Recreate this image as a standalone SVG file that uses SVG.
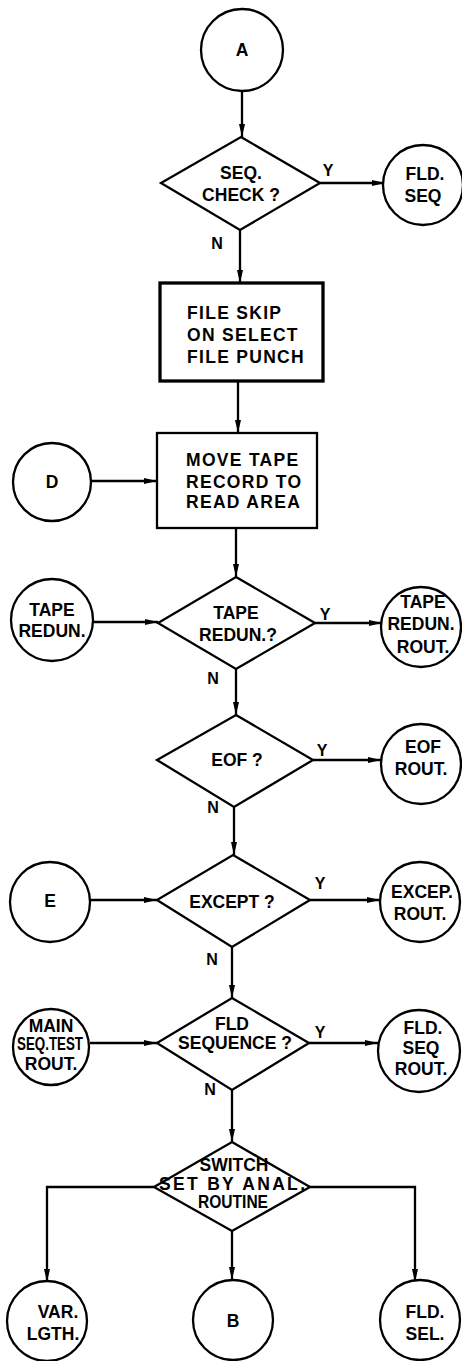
<svg xmlns="http://www.w3.org/2000/svg" width="462" height="1361" viewBox="0 0 462 1361">
<style>
.bg{fill:#fff}
.sh{fill:#fff;stroke:#000;stroke-width:2.3}
.thick{stroke-width:3.3}
.ln{fill:none;stroke:#000;stroke-width:2.3}
text{font-family:"Liberation Sans",Arial,sans-serif;font-weight:bold;font-size:17.5px;fill:#000;text-anchor:middle}
.lbl{font-size:16px}
.lt{text-anchor:start;letter-spacing:1.3px}
</style>
<defs>
<marker id="ah" markerWidth="14" markerHeight="8" refX="13" refY="4" orient="auto" markerUnits="userSpaceOnUse">
<path d="M0,1 L13,4 L0,7 z" fill="#000"/>
</marker>
</defs>
<rect class="bg" width="462" height="1361"/>
<g id="connectors">
<path class="ln" marker-end="url(#ah)" d="M242,90 L242,137"/>
<path class="ln" marker-end="url(#ah)" d="M320,183 L385,183"/>
<path class="ln" marker-end="url(#ah)" d="M240,230 L240,283"/>
<path class="ln" marker-end="url(#ah)" d="M238,381 L238,433"/>
<path class="ln" marker-end="url(#ah)" d="M91,481 L157,481"/>
<path class="ln" marker-end="url(#ah)" d="M236,528 L236,577"/>
<path class="ln" marker-end="url(#ah)" d="M93,622 L158,622"/>
<path class="ln" marker-end="url(#ah)" d="M315,623 L382,623"/>
<path class="ln" marker-end="url(#ah)" d="M236,669 L236,715"/>
<path class="ln" marker-end="url(#ah)" d="M313,760 L381,760"/>
<path class="ln" marker-end="url(#ah)" d="M234,807 L234,855"/>
<path class="ln" marker-end="url(#ah)" d="M90,900 L157,900"/>
<path class="ln" marker-end="url(#ah)" d="M310,900 L380,900"/>
<path class="ln" marker-end="url(#ah)" d="M232,947 L232,998"/>
<path class="ln" marker-end="url(#ah)" d="M90,1043 L157,1043"/>
<path class="ln" marker-end="url(#ah)" d="M309,1043 L378,1043"/>
<path class="ln" marker-end="url(#ah)" d="M232,1090 L232,1142"/>
<path class="ln" marker-end="url(#ah)" d="M154,1187 L47,1187 L47,1282"/>
<path class="ln" marker-end="url(#ah)" d="M310,1187 L415,1187 L415,1282"/>
<path class="ln" marker-end="url(#ah)" d="M232,1231 L232,1280"/>
<text class="lbl" x="328" y="176">Y</text>
<text class="lbl" x="217" y="249">N</text>
<text class="lbl" x="325" y="620">Y</text>
<text class="lbl" x="213" y="684">N</text>
<text class="lbl" x="322" y="756">Y</text>
<text class="lbl" x="213" y="813">N</text>
<text class="lbl" x="320" y="889">Y</text>
<text class="lbl" x="212" y="965">N</text>
<text class="lbl" x="320" y="1038">Y</text>
<text class="lbl" x="210" y="1095">N</text>
</g>
<g id="nodeA"><circle class="sh" cx="242" cy="50" r="41"/><text x="242" y="56">A</text></g>
<g id="seqCheck"><polygon class="sh" points="241,137 320,183 240,230 161,183"/><text x="241" y="179">SEQ.</text><text x="241" y="201">CHECK ?</text></g>
<g id="fldSeq"><circle class="sh" cx="423" cy="185" r="40"/><text x="425" y="180">FLD.</text><text x="423" y="202">SEQ</text></g>
<g id="fileSkip"><rect class="sh thick" x="160" y="283" width="163" height="98"/><text class="lt" x="187" y="319">FILE SKIP</text><text class="lt" x="187" y="341">ON SELECT</text><text class="lt" x="187" y="363">FILE PUNCH</text></g>
<g id="nodeD"><circle class="sh" cx="52" cy="482" r="39"/><text x="52" y="488">D</text></g>
<g id="moveTape"><rect class="sh" x="157" y="433" width="160" height="95"/><text class="lt" x="186" y="466">MOVE TAPE</text><text class="lt" x="186" y="488">RECORD TO</text><text class="lt" x="186" y="508">READ AREA</text></g>
<g id="tapeRedunIn"><circle class="sh" cx="52" cy="620" r="41"/><text x="52" y="616">TAPE</text><text x="52" y="637">REDUN.</text></g>
<g id="tapeRedunQ"><polygon class="sh" points="236,577 315,623 236,669 158,623"/><text x="236" y="619">TAPE</text><text x="238" y="641">REDUN.?</text></g>
<g id="tapeRedunRout"><circle class="sh" cx="421" cy="627" r="40"/><text x="423" y="608">TAPE</text><text x="421" y="630">REDUN.</text><text x="423" y="653">ROUT.</text></g>
<g id="eofQ"><polygon class="sh" points="236,715 313,760 234,807 157,760"/><text x="237" y="766">EOF ?</text></g>
<g id="eofRout"><circle class="sh" cx="421" cy="764" r="40"/><text x="423" y="753">EOF</text><text x="421" y="775">ROUT.</text></g>
<g id="nodeE"><circle class="sh" cx="50" cy="902" r="40"/><text x="50" y="907">E</text></g>
<g id="exceptQ"><polygon class="sh" points="233,855 310,900 232,947 157,900"/><text x="232" y="908">EXCEPT ?</text></g>
<g id="excepRout"><circle class="sh" cx="420" cy="902" r="40"/><text x="422" y="898">EXCEP.</text><text x="420" y="920">ROUT.</text></g>
<g id="mainSeqTest"><circle class="sh" cx="51" cy="1047" r="38"/><text x="51" y="1032" font-size="15">MAIN</text><text x="50" y="1050" font-size="14" textLength="66" lengthAdjust="spacingAndGlyphs">SEQ.TEST</text><text x="51" y="1070" font-size="14">ROUT.</text></g>
<g id="fldSequenceQ"><polygon class="sh" points="232,998 309,1043 232,1090 157,1043"/><text x="232" y="1030">FLD</text><text x="235" y="1049">SEQUENCE ?</text></g>
<g id="fldSeqRout"><circle class="sh" cx="419" cy="1051" r="41"/><text x="423" y="1034">FLD.</text><text x="421" y="1054">SEQ</text><text x="421" y="1075">ROUT.</text></g>
<g id="switchQ"><polygon class="sh" points="232,1142 310,1187 232,1231 154,1187"/><text x="234" y="1171" font-size="15">SWITCH</text><text x="232" y="1190" font-size="15" textLength="146" lengthAdjust="spacing">SET BY ANAL.</text><text x="233" y="1208" font-size="13" textLength="70" lengthAdjust="spacingAndGlyphs">ROUTINE</text></g>
<g id="varLgth"><circle class="sh" cx="47" cy="1321" r="40"/><text x="58" y="1318">VAR.</text><text x="53" y="1340">LGTH.</text></g>
<g id="nodeB"><circle class="sh" cx="233" cy="1320" r="40"/><text x="233" y="1327">B</text></g>
<g id="fldSel"><circle class="sh" cx="420" cy="1320" r="40"/><text x="425" y="1318">FLD.</text><text x="425" y="1340">SEL.</text></g>
</svg>
